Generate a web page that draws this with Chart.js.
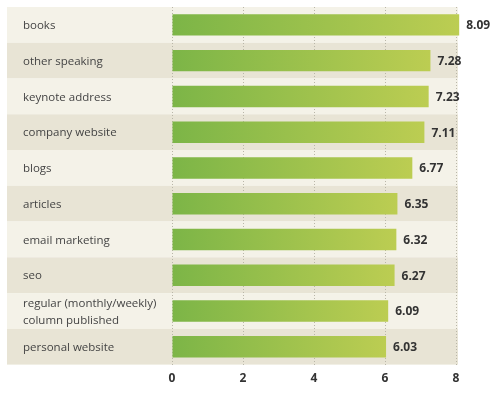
<!DOCTYPE html>
<html><head><meta charset="utf-8">
<script src="https://cdn.jsdelivr.net/npm/chart.js@4"></script>
<style>html,body{margin:0;padding:0;background:#fff}#wrap{width:503px;height:393px}</style>
</head><body><div id="wrap"><canvas id="c"></canvas></div>
<script>
const categories = ["books","other speaking","keynote address","company website","blogs","articles","email marketing","seo",["regular (monthly/weekly)","column published"],"personal website"];
const values = [8.09,7.28,7.23,7.11,6.77,6.35,6.32,6.27,6.09,6.03];
const xTicks = [0,2,4,6,8];

const bands = {
  id:'bands',
  beforeDraw(chart){
    const {ctx, chartArea:a, scales:{y}} = chart;
    const h = (a.bottom - a.top)/categories.length;
    ctx.save();
    for(let i=0;i<categories.length;i++){
      const c = y.getPixelForValue(i);
      ctx.fillStyle = i%2===0 ? '#F4F2E8' : '#E8E4D5';
      ctx.fillRect(7, c-h/2, a.right+2-7, h);
    }
    ctx.font = '11.5px "Open Sans"';
    ctx.fillStyle = '#444';
    ctx.textBaseline = 'middle';
    ctx.textAlign = 'left';
    categories.forEach((lab,i)=>{
      const c = y.getPixelForValue(i);
      const lines = Array.isArray(lab) ? lab : [lab];
      const lh = 17;
      lines.forEach((t,j)=>{
        ctx.fillText(t, 23, c + 1 + (j - (lines.length-1)/2)*lh);
      });
    });
    ctx.restore();
  },
  afterDatasetsDraw(chart){
    const {ctx} = chart;
    const meta = chart.getDatasetMeta(0);
    ctx.save();
    ctx.font = 'bold 12px "Open Sans"';
    ctx.fillStyle = '#333';
    ctx.textBaseline = 'middle';
    ctx.textAlign = 'left';
    meta.data.forEach((el,i)=>{
      ctx.fillText(values[i].toFixed(2), el.x+7, el.y+1);
    });
    ctx.restore();
  }
};

new Chart(document.getElementById('c'),{
  type:'bar',
  data:{labels:categories,datasets:[{
    data:values,
    clip:false,
    barPercentage:0.6,
    categoryPercentage:1,
    backgroundColor(ctx){
      const chart = ctx.chart;
      const x = chart.scales.x;
      if(!chart.chartArea || !x) return '#8DBA4A';
      const v = ctx.parsed ? ctx.parsed.x : values[ctx.dataIndex];
      const x0 = x.getPixelForValue(0), x1 = x.getPixelForValue(v);
      const g = chart.ctx.createLinearGradient(x0,0,x1,0);
      g.addColorStop(0,'#7CB547');
      g.addColorStop(1,'#BCCD52');
      return g;
    },
    borderWidth:0
  }]},
  options:{
    indexAxis:'y',
    responsive:true,maintainAspectRatio:false,animation:false,
    layout:{padding:{left:172,top:7,right:47,bottom:0}},
    plugins:{legend:{display:false},tooltip:{enabled:false}},
    scales:{
      x:{min:0,max:8,
        afterBuildTicks(s){s.ticks = xTicks.map(v=>({value:v}));},
        grid:{color:'#B9B6A8',lineWidth:1,drawTicks:false},
        border:{display:false,dash:[1,2]},
        ticks:{padding:7,color:'#333',font:{family:'"Open Sans"',size:12,weight:'bold'}}
      },
      y:{display:false}
    }
  },
  plugins:[bands]
});
</script></body></html>
